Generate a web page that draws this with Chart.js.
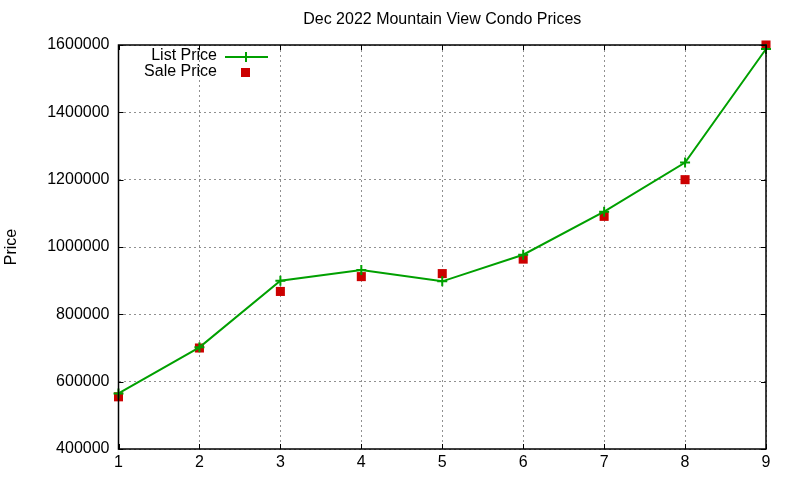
<!DOCTYPE html>
<html>
<head>
<meta charset="utf-8">
<script src="https://cdn.jsdelivr.net/npm/chart.js@4"></script>
<style>
  html, body { margin: 0; padding: 0; background: #fff; }
  #wrap { width: 800px; height: 480px; }
</style>
</head>
<body>
<div id="wrap"><canvas id="chart" width="800" height="480"></canvas></div>
<script>
// values
var bedrooms = [1, 2, 3, 4, 5, 6, 7, 8, 9];
var listPrice = [565000, 702000, 900000, 932000, 898000, 977000, 1105000, 1251000, 1588000];
var salePrice = [555000, 700000, 868000, 912000, 921000, 964000, 1091000, 1200000, 1600000];
var yTicks = [400000, 600000, 800000, 1000000, 1200000, 1400000, 1600000];

var titleText = 'Dec 2022 Mountain View Condo Prices';
var green = '#00a000';
var red = '#cc0000';
var font = '"Liberation Sans", Arial, sans-serif';

function pts(xs, ys) {
    return xs.map(function (x, i) { return { x: x, y: ys[i] }; });
}

// gnuplot-ish extras: title, box, inward ticks, legend inside the plot
var gnuplotLook = {
    id: 'gnuplotLook',
    afterDraw: function (chart) {
        var ctx = chart.ctx;
        var a = chart.chartArea;
        var xs = chart.scales.x, ys = chart.scales.y;
        ctx.save();

        ctx.fillStyle = '#000';
        ctx.font = '16px ' + font;
        ctx.textAlign = 'center';
        ctx.textBaseline = 'middle';
        ctx.fillText(titleText, (a.left + a.right) / 2, 20);

        ctx.save();
        ctx.translate(12, (a.top + a.bottom) / 2);
        ctx.rotate(-Math.PI / 2);
        ctx.font = '16px ' + font;
        ctx.fillText('Price', 0, 0);
        ctx.restore();

        ctx.strokeStyle = '#000';
        ctx.lineWidth = 1.5;
        ctx.strokeRect(a.left, a.top, a.right - a.left, a.bottom - a.top);

        ctx.lineWidth = 1;
        ctx.beginPath();
        bedrooms.forEach(function (v) {
            var px = Math.round(xs.getPixelForValue(v)) + 0.5;
            ctx.moveTo(px, a.bottom); ctx.lineTo(px, a.bottom - 5);
            ctx.moveTo(px, a.top); ctx.lineTo(px, a.top + 5);
        });
        yTicks.forEach(function (v) {
            var py = Math.round(ys.getPixelForValue(v)) + 0.5;
            ctx.moveTo(a.left, py); ctx.lineTo(a.left + 5, py);
            ctx.moveTo(a.right, py); ctx.lineTo(a.right - 5, py);
        });
        ctx.stroke();

        // legend
        ctx.font = '16px ' + font;
        ctx.textAlign = 'right';
        ctx.fillStyle = '#000';
        ctx.fillText('List Price', 217, 56);
        ctx.fillText('Sale Price', 217, 72);
        ctx.strokeStyle = green;
        ctx.lineWidth = 2;
        ctx.beginPath();
        ctx.moveTo(225, 57); ctx.lineTo(268, 57);
        ctx.moveTo(246, 52); ctx.lineTo(246, 62);
        ctx.stroke();
        ctx.fillStyle = red;
        ctx.fillRect(241, 68, 9, 9);
        ctx.restore();
    }
};

new Chart(document.getElementById('chart').getContext('2d'), {
    type: 'line',
    data: {
        datasets: [{
            label: 'List Price',
            data: pts(bedrooms, listPrice),
            borderColor: green,
            backgroundColor: green,
            borderWidth: 2,
            pointStyle: 'cross',
            pointRadius: 5,
            pointBorderWidth: 2,
            tension: 0
        }, {
            label: 'Sale Price',
            data: pts(bedrooms, salePrice),
            showLine: false,
            borderColor: red,
            backgroundColor: red,
            pointStyle: 'rect',
            pointRadius: 6.4,
            pointBorderWidth: 0
        }]
    },
    options: {
        responsive: false,
        animation: false,
        clip: false,
        layout: { padding: { top: 45, right: 34, left: 0, bottom: 0 } },
        plugins: {
            legend: { display: false },
            title: { display: false },
            tooltip: { enabled: false }
        },
        scales: {
            x: {
                type: 'linear',
                min: 1, max: 9,
                afterBuildTicks: function (s) { s.ticks = bedrooms.map(function (v) { return { value: v }; }); },
                afterFit: function (s) { s.height = 31; },
                grid: { color: '#909090', drawTicks: false, lineWidth: 1 },
                border: { display: false, dash: [2, 3] },
                ticks: { color: '#000', font: { family: font, size: 16 }, padding: 4, maxRotation: 0 }
            },
            y: {
                min: 400000, max: 1600000,
                afterBuildTicks: function (s) { s.ticks = yTicks.map(function (v) { return { value: v }; }); },
                afterFit: function (s) { s.width = 118.5; },
                grid: { color: '#909090', drawTicks: false, lineWidth: 1 },
                border: { display: false, dash: [2, 3] },
                ticks: {
                    color: '#000', font: { family: font, size: 16 }, padding: 9,
                    callback: function (v) { return String(v); }
                }
            }
        }
    },
    plugins: [gnuplotLook]
});
</script>
</body>
</html>
